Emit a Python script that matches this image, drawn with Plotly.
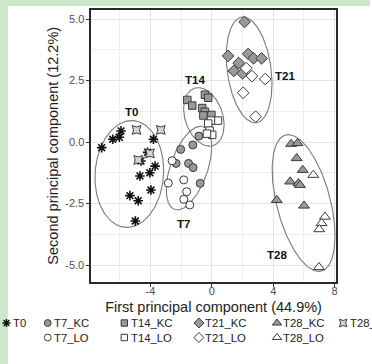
import numpy as np
import plotly.graph_objects as go

# ---------------- data ----------------
T0_x = [-7.18, -6.46, -6.03, -5.92, -3.81, -4.19, -4.62, -3.70, -4.04, -4.69, -3.97, -5.34, -4.80, -4.99]
T0_y = [-0.23, 0.11, 0.19, 0.45, 0.11, -0.42, -0.77, -0.98, -1.25, -1.38, -1.95, -2.18, -2.39, -3.21]
T7_KC_x = [-2.03, -1.24, -2.33, -1.52, -1.22, -0.76, -0.84]
T7_KC_y = [-0.30, -0.12, -0.87, -0.87, -1.04, -1.68, 0.24]
T7_LO_x = [-2.59, -2.84, -1.83, -1.64, -1.83, -1.44]
T7_LO_y = [-0.76, -1.67, -1.54, -2.02, -2.33, -2.56]
T14_KC_x = [-1.60, -1.28, -0.45, -0.24, -0.63, -0.45, -0.55, -0.03]
T14_KC_y = [1.71, 1.48, 1.92, 1.80, 1.38, 1.23, 1.08, 1.10]
T14_LO_x = [0.40, -0.06, -0.24, -0.15, 0.02, -0.32]
T14_LO_y = [0.87, 0.87, 0.75, 0.46, 0.29, 0.34]
T21_KC_x = [2.13, 1.06, 2.37, 2.72, 3.24, 1.75, 1.43, 2.00]
T21_KC_y = [4.88, 3.50, 3.58, 3.40, 3.40, 3.21, 2.89, 2.79]
T21_LO_x = [2.24, 2.61, 3.48, 2.04, 2.85]
T21_LO_y = [3.00, 2.68, 2.56, 2.00, 1.03]
T28_KC_x = [5.17, 5.58, 5.53, 5.92, 5.10, 5.64, 5.74, 4.23, 6.01]
T28_KC_y = [-0.08, -0.05, -0.66, -1.14, -1.61, -1.68, -1.75, -2.36, -2.59]
T28_LO_x = [6.61, 7.37, 7.15, 7.00, 6.98]
T28_LO_y = [-1.34, -3.04, -3.30, -3.55, -5.09]
T28_C_x = [-4.91, -3.33, -4.04, -4.80]
T28_C_y = [0.49, 0.49, -0.46, -0.73]

# confidence ellipses: centre x, centre y, half-width, half-height, x-offset of top point
ellipse_groups = ["T0", "T7", "T14", "T21", "T28"]
ellipse_cx = [-5.38, -1.49, -0.52, 2.43, 5.98]
ellipse_cy = [-1.30, -1.06, 1.02, 2.93, -2.48]
ellipse_hw = [2.24, 1.48, 1.32, 1.49, 2.05]
ellipse_hh = [2.17, 1.70, 1.19, 2.15, 2.78]
ellipse_top_dx = [0.15, 0.76, -0.37, -0.39, -0.99]

group_label_x = [-5.27, -1.88, -1.10, 4.75, 4.23]
group_label_y = [1.23, -3.35, 2.52, 2.70, -4.60]

x_tickvals = [-4, 0, 4, 8]
x_ticktext = ["-4", "0", "4", "8"]
y_tickvals = [-5.0, -2.5, 0.0, 2.5, 5.0]
y_ticktext = ["-5.0", "-2.5", "0.0", "2.5", "5.0"]

x_title = "First principal component (44.9%)"
y_title = "Second principal component (12.2%)"

# ---------------- styling ----------------
W, H = 372, 364
PL, PR, PT, PB = 91.7, 337.7, 9.5, 282.0   # plot area in px
FONT = "Liberation Sans, Arial, sans-serif"
EDGE = "#3a3a3a"
GREY = "#999999"
WHITE = "#ffffff"

# name, x, y, symbol, fill, size
series = [
    ("T0", T0_x, T0_y, "asterisk-open", "#111111", 8),
    ("T7_KC", T7_KC_x, T7_KC_y, "circle", GREY, 8),
    ("T7_LO", T7_LO_x, T7_LO_y, "circle", WHITE, 8),
    ("T14_KC", T14_KC_x, T14_KC_y, "square", GREY, 7.5),
    ("T14_LO", T14_LO_x, T14_LO_y, "square", WHITE, 7.5),
    ("T21_KC", T21_KC_x, T21_KC_y, "diamond", GREY, 9),
    ("T21_LO", T21_LO_x, T21_LO_y, "diamond", WHITE, 9),
    ("T28_KC", T28_KC_x, T28_KC_y, "triangle-up", GREY, 9.5),
    ("T28_LO", T28_LO_x, T28_LO_y, "triangle-up", WHITE, 9.5),
    ("T28_C", T28_C_x, T28_C_y, "star-square", "#d6d6d6", 8),
]
style = {s[0]: s for s in series}

fig = go.Figure()

# ellipses
t = np.linspace(0, 2 * np.pi, 200)
for cx, cy, a, b, d in zip(ellipse_cx, ellipse_cy, ellipse_hw, ellipse_hh, ellipse_top_dx):
    phi = np.arccos(np.clip(d / a, -1, 1))
    fig.add_trace(go.Scatter(x=cx + a * np.cos(t), y=cy + b * np.cos(t + phi), mode="lines",
                             line=dict(color="#7a7a7a", width=1.1), showlegend=False,
                             hoverinfo="skip"))


def marker(sym, fill, size):
    if sym == "asterisk-open":
        return dict(symbol=sym, size=size, color=fill, line=dict(color=fill, width=1.6))
    return dict(symbol=sym, size=size, color=fill, line=dict(color=EDGE, width=1))


for name, xs, ys, sym, fill, size in series:
    fig.add_trace(go.Scatter(x=xs, y=ys, mode="markers", name=name,
                             marker=marker(sym, fill, size), showlegend=False))

# group labels
for g, lx, ly in zip(ellipse_groups, group_label_x, group_label_y):
    fig.add_annotation(x=lx, y=ly, text="<b>%s</b>" % g, showarrow=False,
                       font=dict(family=FONT, size=11.5, color="#111111"))

# hand-built legend on an invisible pixel axis at the bottom
row1 = ["T0", "T7_KC", "T14_KC", "T21_KC", "T28_KC", "T28_C"]
row2 = [None, "T7_LO", "T14_LO", "T21_LO", "T28_LO"]
col_px = [6.5, 48, 125, 200, 278.5, 345]
row_px = [323, 337.5]
for r, row in enumerate([row1, row2]):
    for c, name in enumerate(row):
        if name is None:
            continue
        _, _, _, sym, fill, size = style[name]
        mk = marker(sym, fill, size * 0.85)
        if sym == "asterisk-open":
            mk["line"]["width"] = 1.4
        fig.add_trace(go.Scatter(x=[col_px[c]], y=[row_px[r]], mode="markers", marker=mk,
                                 xaxis="x2", yaxis="y2", showlegend=False, hoverinfo="skip"))
        fig.add_annotation(x=col_px[c] + 4.5, y=row_px[r], xref="x2", yref="y2", text=name,
                           showarrow=False, xanchor="left", yanchor="middle",
                           font=dict(family=FONT, size=11.3, color="#222222"))

# green framing strips of the original page
GREEN = "#cde7cc"
fig.add_shape(type="rect", xref="paper", yref="paper", x0=0, x1=8 / W, y0=0, y1=1,
              fillcolor=GREEN, line=dict(width=0), layer="below")
fig.add_shape(type="rect", xref="paper", yref="paper", x0=0, x1=1, y0=1 - 6 / H, y1=1,
              fillcolor=GREEN, line=dict(width=0), layer="below")

axis_common = dict(showline=True, linecolor="#2a2a2a", linewidth=1.5, mirror=True,
                   ticks="outside", ticklen=3, tickcolor="#333333", tickwidth=1,
                   tickfont=dict(family=FONT, size=11, color="#505050"),
                   showgrid=True, gridcolor="#e4e4e4", gridwidth=1, zeroline=False,
                   title_font=dict(family=FONT, size=14.5, color="#222222"))

fig.update_layout(
    width=W, height=H, margin=dict(l=0, r=0, t=0, b=0, pad=0),
    paper_bgcolor="white", plot_bgcolor="white", showlegend=False,
    xaxis=dict(domain=[PL / W, PR / W], range=[-7.864, 8.084],
               tickmode="array", tickvals=x_tickvals, ticktext=x_ticktext,
               ticklabelstandoff=-5,
               minor=dict(tickmode="linear", tick0=0, dtick=2, showgrid=True,
                          gridcolor="#eeeeee", ticks=""),
               title=dict(text=x_title, standoff=6), **axis_common),
    yaxis=dict(domain=[(H - PB) / H, (H - PT) / H], range=[-5.691, 5.386],
               tickmode="array", tickvals=y_tickvals, ticktext=y_ticktext,
               minor=dict(tickmode="linear", tick0=0, dtick=1.25, showgrid=True,
                          gridcolor="#eeeeee", ticks=""),
               title=dict(text=y_title, standoff=3), **axis_common),
    xaxis2=dict(domain=[0, 1], range=[0, W], visible=False, fixedrange=True),
    yaxis2=dict(domain=[0, 60 / H], range=[H, H - 60], visible=False, fixedrange=True),
)

fig.write_html("out.html")
